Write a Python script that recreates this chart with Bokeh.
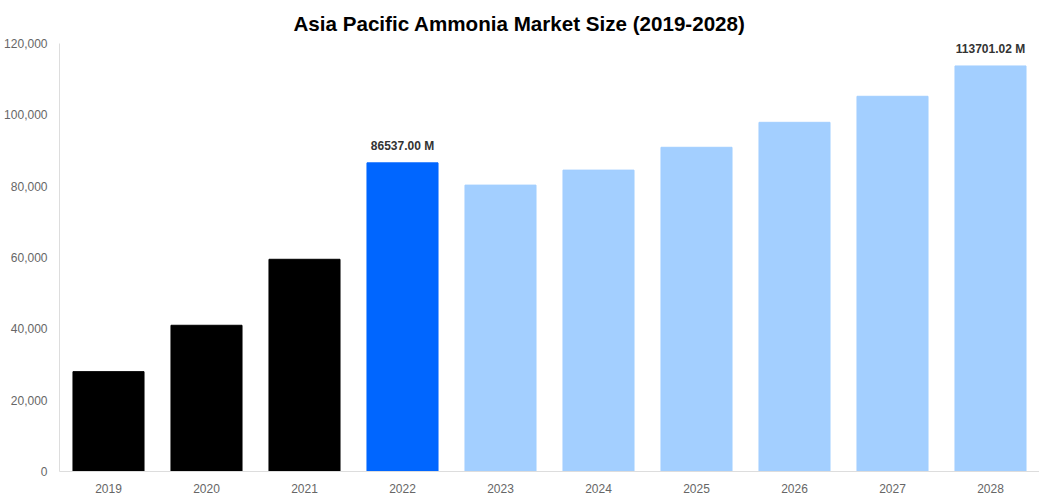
from bokeh.plotting import figure
from bokeh.models import ColumnDataSource, FixedTicker, NumeralTickFormatter, Range1d, LabelSet
from bokeh.core.properties import value
from bokeh.embed import file_html
from bokeh.resources import INLINE

years = ["2019", "2020", "2021", "2022", "2023", "2024", "2025", "2026", "2027", "2028"]
values = [28000, 41000, 59500, 86537.00, 80300, 84500, 90900, 97900, 105200, 113701.02]
colors = ["#000000", "#000000", "#000000", "#0066ff", "#a3cfff", "#a3cfff",
          "#a3cfff", "#a3cfff", "#a3cfff", "#a3cfff"]
label_texts = ["", "", "", "86537.00 M", "", "", "", "", "", "113701.02 M"]
y_ticks = [0, 20000, 40000, 60000, 80000, 100000, 120000]

src = ColumnDataSource(dict(x=years, top=values, color=colors, lab=label_texts))

p = figure(x_range=years, y_range=Range1d(0, 120000), width=1039, height=500,
           output_backend="svg", toolbar_location=None,
           title="Asia Pacific Ammonia Market Size (2019-2028)",
           min_border_left=59, min_border_right=0, min_border_bottom=29, min_border_top=0)

p.title.align = "left"
p.title.offset = 234
p.title.standoff = 18
p.title.text_font = "Liberation Sans"
p.title.text_font_size = "20.6px"
p.title.text_font_style = "bold"
p.title.text_color = "#000000"

p.vbar(x="x", top="top", width=0.725, color="color", source=src)

labels = LabelSet(x="x", y="top", text="lab", source=src, y_offset=10,
                  text_align="center", text_baseline="bottom",
                  text_font=value("Liberation Sans"), text_font_size=value("12px"),
                  text_font_style="bold", text_color="#333333")
p.add_layout(labels)

p.xgrid.visible = False
p.ygrid.visible = False
p.outline_line_color = None

p.yaxis.ticker = FixedTicker(ticks=y_ticks)
p.yaxis.formatter = NumeralTickFormatter(format="0,0")
for ax in (p.xaxis[0], p.yaxis[0]):
    ax.axis_line_color = "#dddddd"
    ax.major_tick_line_color = None
    ax.minor_tick_line_color = None
    ax.major_label_text_font = "Liberation Sans"
    ax.major_label_text_font_size = "12px"
    ax.major_label_text_color = "#666666"
p.yaxis.major_label_standoff = 6
p.xaxis.major_label_standoff = 6

open("out.html", "w").write(file_html(p, INLINE))
